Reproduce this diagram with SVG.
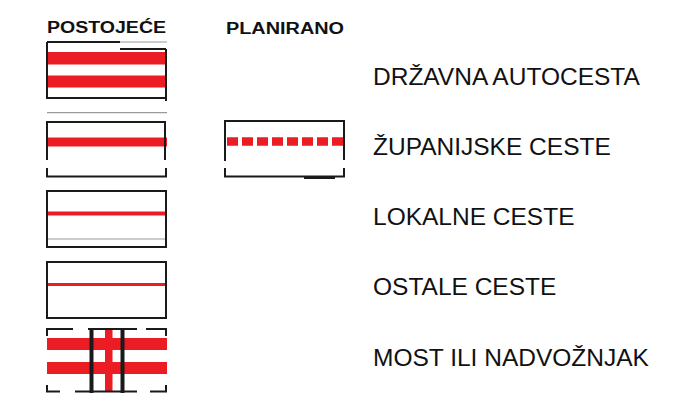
<svg xmlns="http://www.w3.org/2000/svg" width="700" height="399" viewBox="0 0 700 399">
<style>
.hd{font-family:"Liberation Sans",Arial,sans-serif;font-weight:bold;font-size:16px;fill:#111}
.lb{font-family:"Liberation Sans",Arial,sans-serif;font-size:24.5px;fill:#111}
.k{fill:none;stroke:#1a1a1a;stroke-width:2}
.g{fill:none;stroke:#9a9a9a;stroke-width:1.2}
.r{fill:#ec1c24}
</style>
<rect width="700" height="399" fill="#fff"/>
<g id="headers">
<text class="hd" x="47" y="33" textLength="119" lengthAdjust="spacingAndGlyphs">POSTOJEĆE</text>
<text class="hd" x="226" y="34" textLength="118" lengthAdjust="spacingAndGlyphs">PLANIRANO</text>
</g>
<g id="drzavna-autocesta">
<rect class="r" x="48" y="52" width="118" height="12.5"/>
<rect class="r" x="48" y="75.5" width="118" height="12"/>
<path class="g" d="M120,42 H167"/>
<path class="k" d="M47,42 H120 M120,49 H166 M166,49 V101 M47,42 V98 H166"/>
<text class="lb" x="373" y="85">DRŽAVNA AUTOCESTA</text>
</g>
<g id="zupanijske-ceste">
<path class="g" d="M47,112.7 H167"/>
<rect class="r" x="47" y="137.5" width="120" height="9"/>
<path class="k" d="M47,160 V122 H165 V160 M47,168 V176.5 H166 V168"/>
<path d="M227,141.5 H347" fill="none" stroke="#ec1c24" stroke-width="8.5" stroke-dasharray="11 4"/>
<path class="k" d="M225,161 V121 H344 V160 M225,168 V176.5 H344 V168"/>
<path class="k" d="M304,178 H335"/>
<text class="lb" x="373" y="155">ŽUPANIJSKE CESTE</text>
</g>
<g id="lokalne-ceste">
<path class="g" d="M48,239 H165"/>
<rect class="r" x="47" y="211.5" width="120" height="4"/>
<path class="k" d="M47,191 H166 V247 H47 Z"/>
<text class="lb" x="373" y="225">LOKALNE CESTE</text>
</g>
<g id="ostale-ceste">
<rect class="r" x="47" y="283" width="120" height="3"/>
<path class="k" d="M47,262 H166 V318 H47 Z"/>
<text class="lb" x="373" y="295">OSTALE CESTE</text>
</g>
<g id="most-ili-nadvoznjak">
<rect class="r" x="47" y="338" width="120" height="12"/>
<rect class="r" x="47" y="362" width="120" height="12"/>
<rect class="r" x="105" y="329" width="7.5" height="63"/>
<path class="k" d="M47,336 V329 H73 M88,329 H137 M146,329 H166 V336 M47,385 V391.5 H60 M75,391.5 H137 M150,391.5 H166 V385"/>
<path d="M91.5,328 V393 M122.5,328 V393" fill="none" stroke="#1a1a1a" stroke-width="4"/>
<text class="lb" x="373" y="366">MOST ILI NADVOŽNJAK</text>
</g>
</svg>
